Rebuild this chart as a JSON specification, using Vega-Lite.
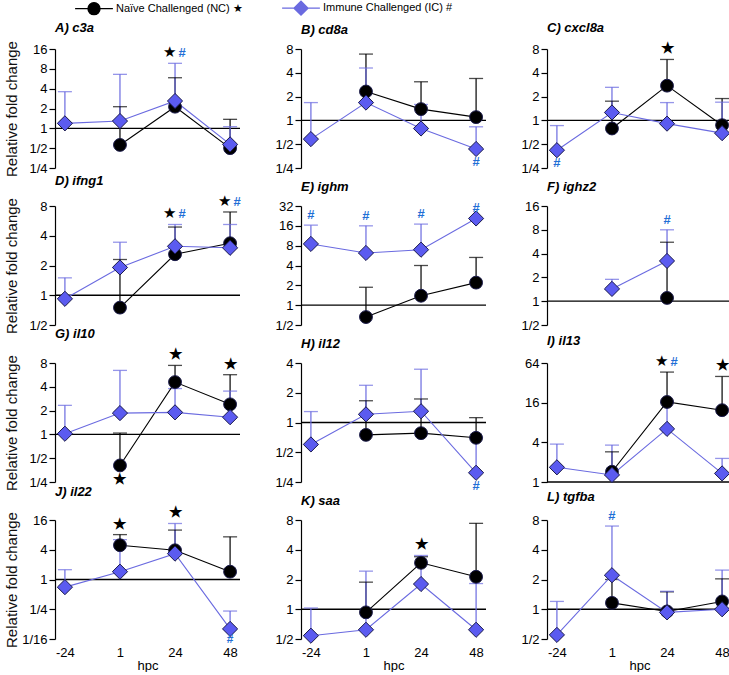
{
"$schema":"https://vega.github.io/schema/vega-lite/v6.json",
"padding":{"left":3,"top":0,"right":0,"bottom":0},
"data":{"values":[
{"p":"A","t":"1","s":"NC","m":0.56,"u":2.13},
{"p":"A","t":"24","s":"NC","m":2.13,"u":5.86,"g":"u","pr":1},
{"p":"A","t":"48","s":"NC","m":0.5,"u":1.37},
{"p":"A","t":"-24","s":"IC","m":1.19,"u":3.6},
{"p":"A","t":"1","s":"IC","m":1.29,"u":6.6},
{"p":"A","t":"24","s":"IC","m":2.6,"u":9.7,"g":"u","pr":1},
{"p":"A","t":"48","s":"IC","m":0.57,"u":1.06},
{"p":"B","t":"1","s":"NC","m":2.32,"u":6.9},
{"p":"B","t":"24","s":"NC","m":1.39,"u":3.08},
{"p":"B","t":"48","s":"NC","m":1.1,"u":3.39},
{"p":"B","t":"-24","s":"IC","m":0.58,"u":1.68},
{"p":"B","t":"1","s":"IC","m":1.68,"u":4.6},
{"p":"B","t":"24","s":"IC","m":0.79,"u":1.59},
{"p":"B","t":"48","s":"IC","m":0.435,"u":0.83,"g":"d"},
{"p":"C","t":"1","s":"NC","m":0.79,"u":1.75},
{"p":"C","t":"24","s":"NC","m":2.75,"u":5.9,"g":"u"},
{"p":"C","t":"48","s":"NC","m":0.87,"u":1.89},
{"p":"C","t":"-24","s":"IC","m":0.42,"u":0.86,"g":"d"},
{"p":"C","t":"1","s":"IC","m":1.26,"u":2.62},
{"p":"C","t":"24","s":"IC","m":0.91,"u":1.68},
{"p":"C","t":"48","s":"IC","m":0.69,"u":1.7},
{"p":"D","t":"1","s":"NC","m":0.75,"u":2.3},
{"p":"D","t":"24","s":"NC","m":2.6,"u":4.9,"g":"u","pr":1},
{"p":"D","t":"48","s":"NC","m":3.36,"u":6.96,"g":"u","pr":1},
{"p":"D","t":"-24","s":"IC","m":0.92,"u":1.5},
{"p":"D","t":"1","s":"IC","m":1.91,"u":3.44},
{"p":"D","t":"24","s":"IC","m":3.13,"u":5.2,"g":"u","pr":1},
{"p":"D","t":"48","s":"IC","m":3.02,"u":5.2,"g":"u","pr":1},
{"p":"E","t":"1","s":"NC","m":0.66,"u":1.87},
{"p":"E","t":"24","s":"NC","m":1.39,"u":4.0},
{"p":"E","t":"48","s":"NC","m":2.2,"u":5.3},
{"p":"E","t":"-24","s":"IC","m":8.5,"u":16.4,"g":"u"},
{"p":"E","t":"1","s":"IC","m":6.2,"u":16,"g":"u"},
{"p":"E","t":"24","s":"IC","m":6.95,"u":17,"g":"u"},
{"p":"E","t":"48","s":"IC","m":20.7,"u":20.7,"g":"u"},
{"p":"F","t":"24","s":"NC","m":1.1,"u":5.57},
{"p":"F","t":"1","s":"IC","m":1.43,"u":1.89},
{"p":"F","t":"24","s":"IC","m":3.23,"u":8.0,"g":"u"},
{"p":"G","t":"1","s":"NC","m":0.405,"u":1.04,"g":"d"},
{"p":"G","t":"24","s":"NC","m":4.59,"u":7.46,"g":"u"},
{"p":"G","t":"48","s":"NC","m":2.4,"u":5.69,"g":"u"},
{"p":"G","t":"-24","s":"IC","m":1.02,"u":2.33},
{"p":"G","t":"1","s":"IC","m":1.86,"u":6.45},
{"p":"G","t":"24","s":"IC","m":1.9,"u":3.8},
{"p":"G","t":"48","s":"IC","m":1.65,"u":3.53},
{"p":"H","t":"1","s":"NC","m":0.75,"u":1.66},
{"p":"H","t":"24","s":"NC","m":0.78,"u":1.73},
{"p":"H","t":"48","s":"NC","m":0.7,"u":1.12},
{"p":"H","t":"-24","s":"IC","m":0.6,"u":1.29},
{"p":"H","t":"1","s":"IC","m":1.21,"u":2.38},
{"p":"H","t":"24","s":"IC","m":1.3,"u":3.46},
{"p":"H","t":"48","s":"IC","m":0.31,"u":0.71,"g":"d"},
{"p":"I","t":"1","s":"NC","m":1.43,"u":2.87},
{"p":"I","t":"24","s":"NC","m":16.4,"u":46.6,"g":"u","pr":1},
{"p":"I","t":"48","s":"NC","m":12.3,"u":40,"g":"u"},
{"p":"I","t":"-24","s":"IC","m":1.67,"u":3.76},
{"p":"I","t":"1","s":"IC","m":1.28,"u":3.63},
{"p":"I","t":"24","s":"IC","m":6.4,"u":16,"g":"u","pr":1},
{"p":"I","t":"48","s":"IC","m":1.35,"u":2.28},
{"p":"J","t":"1","s":"NC","m":4.94,"u":8.1,"g":"u"},
{"p":"J","t":"24","s":"NC","m":3.9,"u":10,"g":"u"},
{"p":"J","t":"48","s":"NC","m":1.44,"u":7.3},
{"p":"J","t":"-24","s":"IC","m":0.7,"u":1.58},
{"p":"J","t":"1","s":"IC","m":1.44,"u":6.4},
{"p":"J","t":"24","s":"IC","m":3.34,"u":13.6},
{"p":"J","t":"48","s":"IC","m":0.1,"u":0.23,"g":"d"},
{"p":"K","t":"1","s":"NC","m":0.93,"u":1.88},
{"p":"K","t":"24","s":"NC","m":2.95,"u":3.4,"g":"u"},
{"p":"K","t":"48","s":"NC","m":2.13,"u":7.4},
{"p":"K","t":"-24","s":"IC","m":0.54,"u":1.03},
{"p":"K","t":"1","s":"IC","m":0.62,"u":2.43},
{"p":"K","t":"24","s":"IC","m":1.8,"u":3.5},
{"p":"K","t":"48","s":"IC","m":0.62,"u":1.82},
{"p":"L","t":"1","s":"NC","m":1.16,"u":2.0},
{"p":"L","t":"24","s":"NC","m":0.95,"u":1.5},
{"p":"L","t":"48","s":"NC","m":1.2,"u":2.03},
{"p":"L","t":"-24","s":"IC","m":0.55,"u":1.2},
{"p":"L","t":"1","s":"IC","m":2.21,"u":6.95,"g":"u"},
{"p":"L","t":"24","s":"IC","m":0.93,"u":1.52},
{"p":"L","t":"48","s":"IC","m":1.0,"u":2.49}
]},
"columns":3,
"spacing":{"row":38,"column":61},
"bounds":"flush",
"concat":[
{"title":"A) c3a","width":185,"height":119,"layer":[
 {"data":{"values":[{}]},"mark":{"type":"rule","color":"#000","strokeWidth":1.3},"encoding":{"y":{"datum":1,"type":"quantitative"}}},
 {"transform":[{"filter":"datum.p=='A'"}],
  "encoding":{"x":{"field":"t","type":"ordinal","scale":{"type":"point","domain":["-24","1","24","48"],"padding":0.18},"axis":null},
   "y":{"field":"m","type":"quantitative","scale":{"type":"log","base":2,"domain":[0.25,16],"nice":false},"axis":{"values":[0.25,0.5,1,2,4,8,16],"title":"Relative fold change","labelExpr":"datum.value >= 1 ? format(datum.value,'d') : '1/' + format(1/datum.value,'d')"}}},
  "layer":[
{"mark":{"type":"rule","strokeWidth":1.2},"encoding":{"y2":{"field":"u"},"color":{"field":"s","type":"nominal","scale":{"domain":["NC","IC"],"range":["#000000","#6a6ae0"]}}}},
{"mark":{"type":"tick","thickness":1.3,"size":14,"orient":"horizontal"},"encoding":{"y":{"field":"u","type":"quantitative"},"color":{"field":"s","type":"nominal","scale":{"domain":["NC","IC"],"range":["#000000","#6a6ae0"]}}}},
{"mark":{"type":"line","strokeWidth":1.1},"encoding":{"color":{"field":"s","type":"nominal","scale":{"domain":["NC","IC"],"range":["#000000","#6a6ae0"]},"legend":{"orient":"none","legendX":31,"legendY":-49,"direction":"horizontal","title":null,"symbolSize":196,"symbolStrokeWidth":1.3,"labelFontSize":11,"labelOffset":14,"columnPadding":33,"labelLimit":400,"labelColor":"#000","labelExpr":"datum.value=='NC' ? 'Naïve Challenged (NC)  ★' : 'Immune Challenged (IC)  #'","encode":{"symbols":{"update":{"shape":{"signal":"datum.value=='NC' ? 'M-2.7,0H2.7M0.86,0A0.86,0.86,0,1,1,-0.86,0A0.86,0.86,0,1,1,0.86,0Z' : 'M-2.7,0H-1M1,0H2.7M-1,0L0,-1L1,0L0,1Z'"},"fill":{"signal":"datum.value=='NC' ? '#000' : '#5b5bf0'"},"stroke":{"signal":"datum.value=='NC' ? '#000' : '#6a6ae0'"}}}}}}}},
{"mark":{"type":"point","filled":true,"opacity":1,"stroke":"#1a1a4a","strokeWidth":1},"encoding":{"fill":{"condition":{"test":"datum.s=='NC'","value":"#000"},"value":"#5b5bf0"},"shape":{"condition":{"test":"datum.s=='NC'","value":"circle"},"value":"diamond"},"size":{"condition":{"test":"datum.s=='NC'","value":165},"value":230}}},
{"transform":[{"joinaggregate":[{"op":"max","field":"u","as":"mu"}],"groupby":["t"]},{"filter":"datum.g=='u' && !datum.pr"}],"mark":{"type":"text","baseline":"bottom","dy":-3,"fontWeight":"bold"},"encoding":{"y":{"field":"mu","type":"quantitative"},"text":{"condition":{"test":"datum.s=='NC'","value":"★"},"value":"#"},"color":{"condition":{"test":"datum.s=='NC'","value":"#000"},"value":"#1f6fd6"},"size":{"condition":{"test":"datum.s=='NC'","value":15},"value":13}}},
{"transform":[{"joinaggregate":[{"op":"max","field":"u","as":"mu"}],"groupby":["t"]},{"filter":"datum.g=='u' && datum.pr && datum.s=='NC'"}],"mark":{"type":"text","baseline":"bottom","dy":-3,"dx":-6,"text":"★","color":"#000","fontSize":15},"encoding":{"y":{"field":"mu","type":"quantitative"}}},
{"transform":[{"joinaggregate":[{"op":"max","field":"u","as":"mu"}],"groupby":["t"]},{"filter":"datum.g=='u' && datum.pr && datum.s=='IC'"}],"mark":{"type":"text","baseline":"bottom","dy":-3,"dx":7,"text":"#","color":"#1f6fd6","fontSize":13,"fontWeight":"bold"},"encoding":{"y":{"field":"mu","type":"quantitative"}}},
{"transform":[{"filter":"datum.g=='d'"}],"mark":{"type":"text","baseline":"top","dy":7,"fontWeight":"bold"},"encoding":{"text":{"condition":{"test":"datum.s=='NC'","value":"★"},"value":"#"},"color":{"condition":{"test":"datum.s=='NC'","value":"#000"},"value":"#1f6fd6"},"size":{"condition":{"test":"datum.s=='NC'","value":15},"value":13}}}
 ]}
]},
{"title":"B) cd8a","width":185,"height":119,"layer":[
 {"data":{"values":[{}]},"mark":{"type":"rule","color":"#000","strokeWidth":1.3},"encoding":{"y":{"datum":1,"type":"quantitative"}}},
 {"transform":[{"filter":"datum.p=='B'"}],
  "encoding":{"x":{"field":"t","type":"ordinal","scale":{"type":"point","domain":["-24","1","24","48"],"padding":0.18},"axis":null},
   "y":{"field":"m","type":"quantitative","scale":{"type":"log","base":2,"domain":[0.25,8],"nice":false},"axis":{"values":[0.25,0.5,1,2,4,8],"title":null,"labelExpr":"datum.value >= 1 ? format(datum.value,'d') : '1/' + format(1/datum.value,'d')"}}},
  "layer":[
{"mark":{"type":"rule","strokeWidth":1.2},"encoding":{"y2":{"field":"u"},"color":{"field":"s","type":"nominal","scale":{"domain":["NC","IC"],"range":["#000000","#6a6ae0"]}}}},
{"mark":{"type":"tick","thickness":1.3,"size":14,"orient":"horizontal"},"encoding":{"y":{"field":"u","type":"quantitative"},"color":{"field":"s","type":"nominal","scale":{"domain":["NC","IC"],"range":["#000000","#6a6ae0"]}}}},
{"mark":{"type":"line","strokeWidth":1.1},"encoding":{"color":{"field":"s","type":"nominal","scale":{"domain":["NC","IC"],"range":["#000000","#6a6ae0"]}}}},
{"mark":{"type":"point","filled":true,"opacity":1,"stroke":"#1a1a4a","strokeWidth":1},"encoding":{"fill":{"condition":{"test":"datum.s=='NC'","value":"#000"},"value":"#5b5bf0"},"shape":{"condition":{"test":"datum.s=='NC'","value":"circle"},"value":"diamond"},"size":{"condition":{"test":"datum.s=='NC'","value":165},"value":230}}},
{"transform":[{"joinaggregate":[{"op":"max","field":"u","as":"mu"}],"groupby":["t"]},{"filter":"datum.g=='u' && !datum.pr"}],"mark":{"type":"text","baseline":"bottom","dy":-3,"fontWeight":"bold"},"encoding":{"y":{"field":"mu","type":"quantitative"},"text":{"condition":{"test":"datum.s=='NC'","value":"★"},"value":"#"},"color":{"condition":{"test":"datum.s=='NC'","value":"#000"},"value":"#1f6fd6"},"size":{"condition":{"test":"datum.s=='NC'","value":15},"value":13}}},
{"transform":[{"filter":"datum.g=='d'"}],"mark":{"type":"text","baseline":"top","dy":7,"fontWeight":"bold"},"encoding":{"text":{"condition":{"test":"datum.s=='NC'","value":"★"},"value":"#"},"color":{"condition":{"test":"datum.s=='NC'","value":"#000"},"value":"#1f6fd6"},"size":{"condition":{"test":"datum.s=='NC'","value":15},"value":13}}}
 ]}
]},
{"title":"C) cxcl8a","width":185,"height":119,"layer":[
 {"data":{"values":[{}]},"mark":{"type":"rule","color":"#000","strokeWidth":1.3},"encoding":{"y":{"datum":1,"type":"quantitative"}}},
 {"transform":[{"filter":"datum.p=='C'"}],
  "encoding":{"x":{"field":"t","type":"ordinal","scale":{"type":"point","domain":["-24","1","24","48"],"padding":0.18},"axis":null},
   "y":{"field":"m","type":"quantitative","scale":{"type":"log","base":2,"domain":[0.25,8],"nice":false},"axis":{"values":[0.25,0.5,1,2,4,8],"title":null,"labelExpr":"datum.value >= 1 ? format(datum.value,'d') : '1/' + format(1/datum.value,'d')"}}},
  "layer":[
{"mark":{"type":"rule","strokeWidth":1.2},"encoding":{"y2":{"field":"u"},"color":{"field":"s","type":"nominal","scale":{"domain":["NC","IC"],"range":["#000000","#6a6ae0"]}}}},
{"mark":{"type":"tick","thickness":1.3,"size":14,"orient":"horizontal"},"encoding":{"y":{"field":"u","type":"quantitative"},"color":{"field":"s","type":"nominal","scale":{"domain":["NC","IC"],"range":["#000000","#6a6ae0"]}}}},
{"mark":{"type":"line","strokeWidth":1.1},"encoding":{"color":{"field":"s","type":"nominal","scale":{"domain":["NC","IC"],"range":["#000000","#6a6ae0"]}}}},
{"mark":{"type":"point","filled":true,"opacity":1,"stroke":"#1a1a4a","strokeWidth":1},"encoding":{"fill":{"condition":{"test":"datum.s=='NC'","value":"#000"},"value":"#5b5bf0"},"shape":{"condition":{"test":"datum.s=='NC'","value":"circle"},"value":"diamond"},"size":{"condition":{"test":"datum.s=='NC'","value":165},"value":230}}},
{"transform":[{"joinaggregate":[{"op":"max","field":"u","as":"mu"}],"groupby":["t"]},{"filter":"datum.g=='u' && !datum.pr"}],"mark":{"type":"text","baseline":"bottom","dy":-3,"fontWeight":"bold"},"encoding":{"y":{"field":"mu","type":"quantitative"},"text":{"condition":{"test":"datum.s=='NC'","value":"★"},"value":"#"},"color":{"condition":{"test":"datum.s=='NC'","value":"#000"},"value":"#1f6fd6"},"size":{"condition":{"test":"datum.s=='NC'","value":15},"value":13}}},
{"transform":[{"filter":"datum.g=='d'"}],"mark":{"type":"text","baseline":"top","dy":7,"fontWeight":"bold"},"encoding":{"text":{"condition":{"test":"datum.s=='NC'","value":"★"},"value":"#"},"color":{"condition":{"test":"datum.s=='NC'","value":"#000"},"value":"#1f6fd6"},"size":{"condition":{"test":"datum.s=='NC'","value":15},"value":13}}}
 ]}
]},
{"title":"D) ifng1","width":185,"height":119,"layer":[
 {"data":{"values":[{}]},"mark":{"type":"rule","color":"#000","strokeWidth":1.3},"encoding":{"y":{"datum":1,"type":"quantitative"}}},
 {"transform":[{"filter":"datum.p=='D'"}],
  "encoding":{"x":{"field":"t","type":"ordinal","scale":{"type":"point","domain":["-24","1","24","48"],"padding":0.18},"axis":null},
   "y":{"field":"m","type":"quantitative","scale":{"type":"log","base":2,"domain":[0.5,8],"nice":false},"axis":{"values":[0.5,1,2,4,8],"title":"Relative fold change","labelExpr":"datum.value >= 1 ? format(datum.value,'d') : '1/' + format(1/datum.value,'d')"}}},
  "layer":[
{"mark":{"type":"rule","strokeWidth":1.2},"encoding":{"y2":{"field":"u"},"color":{"field":"s","type":"nominal","scale":{"domain":["NC","IC"],"range":["#000000","#6a6ae0"]}}}},
{"mark":{"type":"tick","thickness":1.3,"size":14,"orient":"horizontal"},"encoding":{"y":{"field":"u","type":"quantitative"},"color":{"field":"s","type":"nominal","scale":{"domain":["NC","IC"],"range":["#000000","#6a6ae0"]}}}},
{"mark":{"type":"line","strokeWidth":1.1},"encoding":{"color":{"field":"s","type":"nominal","scale":{"domain":["NC","IC"],"range":["#000000","#6a6ae0"]}}}},
{"mark":{"type":"point","filled":true,"opacity":1,"stroke":"#1a1a4a","strokeWidth":1},"encoding":{"fill":{"condition":{"test":"datum.s=='NC'","value":"#000"},"value":"#5b5bf0"},"shape":{"condition":{"test":"datum.s=='NC'","value":"circle"},"value":"diamond"},"size":{"condition":{"test":"datum.s=='NC'","value":165},"value":230}}},
{"transform":[{"joinaggregate":[{"op":"max","field":"u","as":"mu"}],"groupby":["t"]},{"filter":"datum.g=='u' && datum.pr && datum.s=='NC'"}],"mark":{"type":"text","baseline":"bottom","dy":-3,"dx":-6,"text":"★","color":"#000","fontSize":15},"encoding":{"y":{"field":"mu","type":"quantitative"}}},
{"transform":[{"joinaggregate":[{"op":"max","field":"u","as":"mu"}],"groupby":["t"]},{"filter":"datum.g=='u' && datum.pr && datum.s=='IC'"}],"mark":{"type":"text","baseline":"bottom","dy":-3,"dx":7,"text":"#","color":"#1f6fd6","fontSize":13,"fontWeight":"bold"},"encoding":{"y":{"field":"mu","type":"quantitative"}}}
 ]}
]},
{"title":"E) ighm","width":185,"height":119,"layer":[
 {"data":{"values":[{}]},"mark":{"type":"rule","color":"#000","strokeWidth":1.3},"encoding":{"y":{"datum":1,"type":"quantitative"}}},
 {"transform":[{"filter":"datum.p=='E'"}],
  "encoding":{"x":{"field":"t","type":"ordinal","scale":{"type":"point","domain":["-24","1","24","48"],"padding":0.18},"axis":null},
   "y":{"field":"m","type":"quantitative","scale":{"type":"log","base":2,"domain":[0.5,32],"nice":false},"axis":{"values":[0.5,1,2,4,8,16,32],"title":null,"labelExpr":"datum.value >= 1 ? format(datum.value,'d') : '1/' + format(1/datum.value,'d')"}}},
  "layer":[
{"mark":{"type":"rule","strokeWidth":1.2},"encoding":{"y2":{"field":"u"},"color":{"field":"s","type":"nominal","scale":{"domain":["NC","IC"],"range":["#000000","#6a6ae0"]}}}},
{"mark":{"type":"tick","thickness":1.3,"size":14,"orient":"horizontal"},"encoding":{"y":{"field":"u","type":"quantitative"},"color":{"field":"s","type":"nominal","scale":{"domain":["NC","IC"],"range":["#000000","#6a6ae0"]}}}},
{"mark":{"type":"line","strokeWidth":1.1},"encoding":{"color":{"field":"s","type":"nominal","scale":{"domain":["NC","IC"],"range":["#000000","#6a6ae0"]}}}},
{"mark":{"type":"point","filled":true,"opacity":1,"stroke":"#1a1a4a","strokeWidth":1},"encoding":{"fill":{"condition":{"test":"datum.s=='NC'","value":"#000"},"value":"#5b5bf0"},"shape":{"condition":{"test":"datum.s=='NC'","value":"circle"},"value":"diamond"},"size":{"condition":{"test":"datum.s=='NC'","value":165},"value":230}}},
{"transform":[{"joinaggregate":[{"op":"max","field":"u","as":"mu"}],"groupby":["t"]},{"filter":"datum.g=='u' && !datum.pr"}],"mark":{"type":"text","baseline":"bottom","dy":-3,"fontWeight":"bold"},"encoding":{"y":{"field":"mu","type":"quantitative"},"text":{"condition":{"test":"datum.s=='NC'","value":"★"},"value":"#"},"color":{"condition":{"test":"datum.s=='NC'","value":"#000"},"value":"#1f6fd6"},"size":{"condition":{"test":"datum.s=='NC'","value":15},"value":13}}}
 ]}
]},
{"title":"F) ighz2","width":185,"height":119,"layer":[
 {"data":{"values":[{}]},"mark":{"type":"rule","color":"#000","strokeWidth":1.3},"encoding":{"y":{"datum":1,"type":"quantitative"}}},
 {"transform":[{"filter":"datum.p=='F'"}],
  "encoding":{"x":{"field":"t","type":"ordinal","scale":{"type":"point","domain":["-24","1","24","48"],"padding":0.18},"axis":null},
   "y":{"field":"m","type":"quantitative","scale":{"type":"log","base":2,"domain":[0.5,16],"nice":false},"axis":{"values":[0.5,1,2,4,8,16],"title":null,"labelExpr":"datum.value >= 1 ? format(datum.value,'d') : '1/' + format(1/datum.value,'d')"}}},
  "layer":[
{"mark":{"type":"rule","strokeWidth":1.2},"encoding":{"y2":{"field":"u"},"color":{"field":"s","type":"nominal","scale":{"domain":["NC","IC"],"range":["#000000","#6a6ae0"]}}}},
{"mark":{"type":"tick","thickness":1.3,"size":14,"orient":"horizontal"},"encoding":{"y":{"field":"u","type":"quantitative"},"color":{"field":"s","type":"nominal","scale":{"domain":["NC","IC"],"range":["#000000","#6a6ae0"]}}}},
{"mark":{"type":"line","strokeWidth":1.1},"encoding":{"color":{"field":"s","type":"nominal","scale":{"domain":["NC","IC"],"range":["#000000","#6a6ae0"]}}}},
{"mark":{"type":"point","filled":true,"opacity":1,"stroke":"#1a1a4a","strokeWidth":1},"encoding":{"fill":{"condition":{"test":"datum.s=='NC'","value":"#000"},"value":"#5b5bf0"},"shape":{"condition":{"test":"datum.s=='NC'","value":"circle"},"value":"diamond"},"size":{"condition":{"test":"datum.s=='NC'","value":165},"value":230}}},
{"transform":[{"joinaggregate":[{"op":"max","field":"u","as":"mu"}],"groupby":["t"]},{"filter":"datum.g=='u' && !datum.pr"}],"mark":{"type":"text","baseline":"bottom","dy":-3,"fontWeight":"bold"},"encoding":{"y":{"field":"mu","type":"quantitative"},"text":{"condition":{"test":"datum.s=='NC'","value":"★"},"value":"#"},"color":{"condition":{"test":"datum.s=='NC'","value":"#000"},"value":"#1f6fd6"},"size":{"condition":{"test":"datum.s=='NC'","value":15},"value":13}}}
 ]}
]},
{"title":"G) il10","width":185,"height":119,"layer":[
 {"data":{"values":[{}]},"mark":{"type":"rule","color":"#000","strokeWidth":1.3},"encoding":{"y":{"datum":1,"type":"quantitative"}}},
 {"transform":[{"filter":"datum.p=='G'"}],
  "encoding":{"x":{"field":"t","type":"ordinal","scale":{"type":"point","domain":["-24","1","24","48"],"padding":0.18},"axis":null},
   "y":{"field":"m","type":"quantitative","scale":{"type":"log","base":2,"domain":[0.25,8],"nice":false},"axis":{"values":[0.25,0.5,1,2,4,8],"title":"Relative fold change","labelExpr":"datum.value >= 1 ? format(datum.value,'d') : '1/' + format(1/datum.value,'d')"}}},
  "layer":[
{"mark":{"type":"rule","strokeWidth":1.2},"encoding":{"y2":{"field":"u"},"color":{"field":"s","type":"nominal","scale":{"domain":["NC","IC"],"range":["#000000","#6a6ae0"]}}}},
{"mark":{"type":"tick","thickness":1.3,"size":14,"orient":"horizontal"},"encoding":{"y":{"field":"u","type":"quantitative"},"color":{"field":"s","type":"nominal","scale":{"domain":["NC","IC"],"range":["#000000","#6a6ae0"]}}}},
{"mark":{"type":"line","strokeWidth":1.1},"encoding":{"color":{"field":"s","type":"nominal","scale":{"domain":["NC","IC"],"range":["#000000","#6a6ae0"]}}}},
{"mark":{"type":"point","filled":true,"opacity":1,"stroke":"#1a1a4a","strokeWidth":1},"encoding":{"fill":{"condition":{"test":"datum.s=='NC'","value":"#000"},"value":"#5b5bf0"},"shape":{"condition":{"test":"datum.s=='NC'","value":"circle"},"value":"diamond"},"size":{"condition":{"test":"datum.s=='NC'","value":165},"value":230}}},
{"transform":[{"joinaggregate":[{"op":"max","field":"u","as":"mu"}],"groupby":["t"]},{"filter":"datum.g=='u' && !datum.pr"}],"mark":{"type":"text","baseline":"bottom","dy":-3,"fontWeight":"bold"},"encoding":{"y":{"field":"mu","type":"quantitative"},"text":{"condition":{"test":"datum.s=='NC'","value":"★"},"value":"#"},"color":{"condition":{"test":"datum.s=='NC'","value":"#000"},"value":"#1f6fd6"},"size":{"condition":{"test":"datum.s=='NC'","value":15},"value":13}}},
{"transform":[{"filter":"datum.g=='d'"}],"mark":{"type":"text","baseline":"top","dy":7,"fontWeight":"bold"},"encoding":{"text":{"condition":{"test":"datum.s=='NC'","value":"★"},"value":"#"},"color":{"condition":{"test":"datum.s=='NC'","value":"#000"},"value":"#1f6fd6"},"size":{"condition":{"test":"datum.s=='NC'","value":15},"value":13}}}
 ]}
]},
{"title":"H) il12","width":185,"height":119,"layer":[
 {"data":{"values":[{}]},"mark":{"type":"rule","color":"#000","strokeWidth":1.3},"encoding":{"y":{"datum":1,"type":"quantitative"}}},
 {"transform":[{"filter":"datum.p=='H'"}],
  "encoding":{"x":{"field":"t","type":"ordinal","scale":{"type":"point","domain":["-24","1","24","48"],"padding":0.18},"axis":null},
   "y":{"field":"m","type":"quantitative","scale":{"type":"log","base":2,"domain":[0.25,4],"nice":false},"axis":{"values":[0.25,0.5,1,2,4],"title":null,"labelExpr":"datum.value >= 1 ? format(datum.value,'d') : '1/' + format(1/datum.value,'d')"}}},
  "layer":[
{"mark":{"type":"rule","strokeWidth":1.2},"encoding":{"y2":{"field":"u"},"color":{"field":"s","type":"nominal","scale":{"domain":["NC","IC"],"range":["#000000","#6a6ae0"]}}}},
{"mark":{"type":"tick","thickness":1.3,"size":14,"orient":"horizontal"},"encoding":{"y":{"field":"u","type":"quantitative"},"color":{"field":"s","type":"nominal","scale":{"domain":["NC","IC"],"range":["#000000","#6a6ae0"]}}}},
{"mark":{"type":"line","strokeWidth":1.1},"encoding":{"color":{"field":"s","type":"nominal","scale":{"domain":["NC","IC"],"range":["#000000","#6a6ae0"]}}}},
{"mark":{"type":"point","filled":true,"opacity":1,"stroke":"#1a1a4a","strokeWidth":1},"encoding":{"fill":{"condition":{"test":"datum.s=='NC'","value":"#000"},"value":"#5b5bf0"},"shape":{"condition":{"test":"datum.s=='NC'","value":"circle"},"value":"diamond"},"size":{"condition":{"test":"datum.s=='NC'","value":165},"value":230}}},
{"transform":[{"filter":"datum.g=='d'"}],"mark":{"type":"text","baseline":"top","dy":7,"fontWeight":"bold"},"encoding":{"text":{"condition":{"test":"datum.s=='NC'","value":"★"},"value":"#"},"color":{"condition":{"test":"datum.s=='NC'","value":"#000"},"value":"#1f6fd6"},"size":{"condition":{"test":"datum.s=='NC'","value":15},"value":13}}}
 ]}
]},
{"title":"I) il13","width":185,"height":119,"layer":[
 {"data":{"values":[{}]},"mark":{"type":"rule","color":"#000","strokeWidth":1.3},"encoding":{"y":{"datum":1,"type":"quantitative"}}},
 {"transform":[{"filter":"datum.p=='I'"}],
  "encoding":{"x":{"field":"t","type":"ordinal","scale":{"type":"point","domain":["-24","1","24","48"],"padding":0.18},"axis":null},
   "y":{"field":"m","type":"quantitative","scale":{"type":"log","base":2,"domain":[1,64],"nice":false},"axis":{"values":[1,4,16,64],"title":null,"labelExpr":"datum.value >= 1 ? format(datum.value,'d') : '1/' + format(1/datum.value,'d')"}}},
  "layer":[
{"mark":{"type":"rule","strokeWidth":1.2},"encoding":{"y2":{"field":"u"},"color":{"field":"s","type":"nominal","scale":{"domain":["NC","IC"],"range":["#000000","#6a6ae0"]}}}},
{"mark":{"type":"tick","thickness":1.3,"size":14,"orient":"horizontal"},"encoding":{"y":{"field":"u","type":"quantitative"},"color":{"field":"s","type":"nominal","scale":{"domain":["NC","IC"],"range":["#000000","#6a6ae0"]}}}},
{"mark":{"type":"line","strokeWidth":1.1},"encoding":{"color":{"field":"s","type":"nominal","scale":{"domain":["NC","IC"],"range":["#000000","#6a6ae0"]}}}},
{"mark":{"type":"point","filled":true,"opacity":1,"stroke":"#1a1a4a","strokeWidth":1},"encoding":{"fill":{"condition":{"test":"datum.s=='NC'","value":"#000"},"value":"#5b5bf0"},"shape":{"condition":{"test":"datum.s=='NC'","value":"circle"},"value":"diamond"},"size":{"condition":{"test":"datum.s=='NC'","value":165},"value":230}}},
{"transform":[{"joinaggregate":[{"op":"max","field":"u","as":"mu"}],"groupby":["t"]},{"filter":"datum.g=='u' && !datum.pr"}],"mark":{"type":"text","baseline":"bottom","dy":-3,"fontWeight":"bold"},"encoding":{"y":{"field":"mu","type":"quantitative"},"text":{"condition":{"test":"datum.s=='NC'","value":"★"},"value":"#"},"color":{"condition":{"test":"datum.s=='NC'","value":"#000"},"value":"#1f6fd6"},"size":{"condition":{"test":"datum.s=='NC'","value":15},"value":13}}},
{"transform":[{"joinaggregate":[{"op":"max","field":"u","as":"mu"}],"groupby":["t"]},{"filter":"datum.g=='u' && datum.pr && datum.s=='NC'"}],"mark":{"type":"text","baseline":"bottom","dy":-3,"dx":-6,"text":"★","color":"#000","fontSize":15},"encoding":{"y":{"field":"mu","type":"quantitative"}}},
{"transform":[{"joinaggregate":[{"op":"max","field":"u","as":"mu"}],"groupby":["t"]},{"filter":"datum.g=='u' && datum.pr && datum.s=='IC'"}],"mark":{"type":"text","baseline":"bottom","dy":-3,"dx":7,"text":"#","color":"#1f6fd6","fontSize":13,"fontWeight":"bold"},"encoding":{"y":{"field":"mu","type":"quantitative"}}}
 ]}
]},
{"title":"J) il22","width":185,"height":119,"layer":[
 {"data":{"values":[{}]},"mark":{"type":"rule","color":"#000","strokeWidth":1.3},"encoding":{"y":{"datum":1,"type":"quantitative"}}},
 {"transform":[{"filter":"datum.p=='J'"}],
  "encoding":{"x":{"field":"t","type":"ordinal","scale":{"type":"point","domain":["-24","1","24","48"],"padding":0.18},"axis":{"title":"hpc","domain":false,"ticks":false,"labelAngle":0,"labelPadding":7,"labelFontSize":13,"labelColor":"#000","titleFontSize":13,"titleFontWeight":"normal","titleColor":"#000","titlePadding":0}},
   "y":{"field":"m","type":"quantitative","scale":{"type":"log","base":2,"domain":[0.0625,16],"nice":false},"axis":{"values":[0.0625,0.25,1,4,16],"title":"Relative fold change","labelExpr":"datum.value >= 1 ? format(datum.value,'d') : '1/' + format(1/datum.value,'d')"}}},
  "layer":[
{"mark":{"type":"rule","strokeWidth":1.2},"encoding":{"y2":{"field":"u"},"color":{"field":"s","type":"nominal","scale":{"domain":["NC","IC"],"range":["#000000","#6a6ae0"]}}}},
{"mark":{"type":"tick","thickness":1.3,"size":14,"orient":"horizontal"},"encoding":{"y":{"field":"u","type":"quantitative"},"color":{"field":"s","type":"nominal","scale":{"domain":["NC","IC"],"range":["#000000","#6a6ae0"]}}}},
{"mark":{"type":"line","strokeWidth":1.1},"encoding":{"color":{"field":"s","type":"nominal","scale":{"domain":["NC","IC"],"range":["#000000","#6a6ae0"]}}}},
{"mark":{"type":"point","filled":true,"opacity":1,"stroke":"#1a1a4a","strokeWidth":1},"encoding":{"fill":{"condition":{"test":"datum.s=='NC'","value":"#000"},"value":"#5b5bf0"},"shape":{"condition":{"test":"datum.s=='NC'","value":"circle"},"value":"diamond"},"size":{"condition":{"test":"datum.s=='NC'","value":165},"value":230}}},
{"transform":[{"joinaggregate":[{"op":"max","field":"u","as":"mu"}],"groupby":["t"]},{"filter":"datum.g=='u' && !datum.pr"}],"mark":{"type":"text","baseline":"bottom","dy":-3,"fontWeight":"bold"},"encoding":{"y":{"field":"mu","type":"quantitative"},"text":{"condition":{"test":"datum.s=='NC'","value":"★"},"value":"#"},"color":{"condition":{"test":"datum.s=='NC'","value":"#000"},"value":"#1f6fd6"},"size":{"condition":{"test":"datum.s=='NC'","value":15},"value":13}}},
{"transform":[{"filter":"datum.g=='d'"}],"mark":{"type":"text","baseline":"top","dy":5,"fontWeight":"bold"},"encoding":{"text":{"condition":{"test":"datum.s=='NC'","value":"★"},"value":"#"},"color":{"condition":{"test":"datum.s=='NC'","value":"#000"},"value":"#1f6fd6"},"size":{"condition":{"test":"datum.s=='NC'","value":15},"value":12}}}
 ]}
]},
{"title":"K) saa","width":185,"height":119,"layer":[
 {"data":{"values":[{}]},"mark":{"type":"rule","color":"#000","strokeWidth":1.3},"encoding":{"y":{"datum":1,"type":"quantitative"}}},
 {"transform":[{"filter":"datum.p=='K'"}],
  "encoding":{"x":{"field":"t","type":"ordinal","scale":{"type":"point","domain":["-24","1","24","48"],"padding":0.18},"axis":{"title":"hpc","domain":false,"ticks":false,"labelAngle":0,"labelPadding":7,"labelFontSize":13,"labelColor":"#000","titleFontSize":13,"titleFontWeight":"normal","titleColor":"#000","titlePadding":0}},
   "y":{"field":"m","type":"quantitative","scale":{"type":"log","base":2,"domain":[0.5,8],"nice":false},"axis":{"values":[0.5,1,2,4,8],"title":null,"labelExpr":"datum.value >= 1 ? format(datum.value,'d') : '1/' + format(1/datum.value,'d')"}}},
  "layer":[
{"mark":{"type":"rule","strokeWidth":1.2},"encoding":{"y2":{"field":"u"},"color":{"field":"s","type":"nominal","scale":{"domain":["NC","IC"],"range":["#000000","#6a6ae0"]}}}},
{"mark":{"type":"tick","thickness":1.3,"size":14,"orient":"horizontal"},"encoding":{"y":{"field":"u","type":"quantitative"},"color":{"field":"s","type":"nominal","scale":{"domain":["NC","IC"],"range":["#000000","#6a6ae0"]}}}},
{"mark":{"type":"line","strokeWidth":1.1},"encoding":{"color":{"field":"s","type":"nominal","scale":{"domain":["NC","IC"],"range":["#000000","#6a6ae0"]}}}},
{"mark":{"type":"point","filled":true,"opacity":1,"stroke":"#1a1a4a","strokeWidth":1},"encoding":{"fill":{"condition":{"test":"datum.s=='NC'","value":"#000"},"value":"#5b5bf0"},"shape":{"condition":{"test":"datum.s=='NC'","value":"circle"},"value":"diamond"},"size":{"condition":{"test":"datum.s=='NC'","value":165},"value":230}}},
{"transform":[{"joinaggregate":[{"op":"max","field":"u","as":"mu"}],"groupby":["t"]},{"filter":"datum.g=='u' && !datum.pr"}],"mark":{"type":"text","baseline":"bottom","dy":-3,"fontWeight":"bold"},"encoding":{"y":{"field":"mu","type":"quantitative"},"text":{"condition":{"test":"datum.s=='NC'","value":"★"},"value":"#"},"color":{"condition":{"test":"datum.s=='NC'","value":"#000"},"value":"#1f6fd6"},"size":{"condition":{"test":"datum.s=='NC'","value":15},"value":13}}}
 ]}
]},
{"title":"L) tgfba","width":185,"height":119,"layer":[
 {"data":{"values":[{}]},"mark":{"type":"rule","color":"#000","strokeWidth":1.3},"encoding":{"y":{"datum":1,"type":"quantitative"}}},
 {"transform":[{"filter":"datum.p=='L'"}],
  "encoding":{"x":{"field":"t","type":"ordinal","scale":{"type":"point","domain":["-24","1","24","48"],"padding":0.18},"axis":{"title":"hpc","domain":false,"ticks":false,"labelAngle":0,"labelPadding":7,"labelFontSize":13,"labelColor":"#000","titleFontSize":13,"titleFontWeight":"normal","titleColor":"#000","titlePadding":0}},
   "y":{"field":"m","type":"quantitative","scale":{"type":"log","base":2,"domain":[0.5,8],"nice":false},"axis":{"values":[0.5,1,2,4,8],"title":null,"labelExpr":"datum.value >= 1 ? format(datum.value,'d') : '1/' + format(1/datum.value,'d')"}}},
  "layer":[
{"mark":{"type":"rule","strokeWidth":1.2},"encoding":{"y2":{"field":"u"},"color":{"field":"s","type":"nominal","scale":{"domain":["NC","IC"],"range":["#000000","#6a6ae0"]}}}},
{"mark":{"type":"tick","thickness":1.3,"size":14,"orient":"horizontal"},"encoding":{"y":{"field":"u","type":"quantitative"},"color":{"field":"s","type":"nominal","scale":{"domain":["NC","IC"],"range":["#000000","#6a6ae0"]}}}},
{"mark":{"type":"line","strokeWidth":1.1},"encoding":{"color":{"field":"s","type":"nominal","scale":{"domain":["NC","IC"],"range":["#000000","#6a6ae0"]}}}},
{"mark":{"type":"point","filled":true,"opacity":1,"stroke":"#1a1a4a","strokeWidth":1},"encoding":{"fill":{"condition":{"test":"datum.s=='NC'","value":"#000"},"value":"#5b5bf0"},"shape":{"condition":{"test":"datum.s=='NC'","value":"circle"},"value":"diamond"},"size":{"condition":{"test":"datum.s=='NC'","value":165},"value":230}}},
{"transform":[{"joinaggregate":[{"op":"max","field":"u","as":"mu"}],"groupby":["t"]},{"filter":"datum.g=='u' && !datum.pr"}],"mark":{"type":"text","baseline":"bottom","dy":-3,"fontWeight":"bold"},"encoding":{"y":{"field":"mu","type":"quantitative"},"text":{"condition":{"test":"datum.s=='NC'","value":"★"},"value":"#"},"color":{"condition":{"test":"datum.s=='NC'","value":"#000"},"value":"#1f6fd6"},"size":{"condition":{"test":"datum.s=='NC'","value":15},"value":13}}}
 ]}
]}
],
"config":{
 "font":"Liberation Sans",
 "view":{"stroke":null},
 "title":{"anchor":"start","frame":"group","fontSize":13,"fontStyle":"italic","fontWeight":"bold","offset":6,"color":"#000"},
 "axisY":{"domainColor":"#000","domainWidth":1.2,"tickColor":"#000","tickWidth":1.2,"tickSize":6,"labelFontSize":13,"labelColor":"#000","labelPadding":2,"grid":false,"titleFontSize":15,"titleFontWeight":"normal","titleColor":"#111","minExtent":34,"maxExtent":34,"titlePadding":2}
}
}
